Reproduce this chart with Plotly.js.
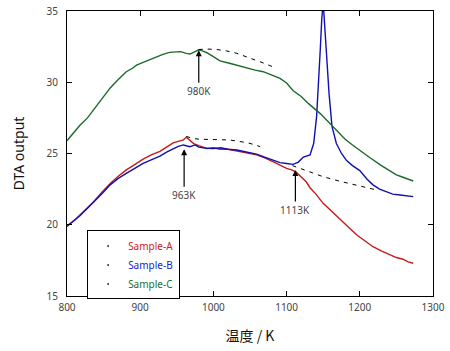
<!DOCTYPE html>
<html>
<head>
<meta charset="utf-8">
<script src="https://cdn.plot.ly/plotly-3.0.1.min.js"></script>
<style>html,body{margin:0;padding:0;background:#fff;}#chart{width:450px;height:351px;}</style>
</head>
<body>
<div id="chart"></div>
<script>
// Sample-A (red)
const tempA = [800,810,818,828,836,848,859,870,881,892,904,915,927,936,945,952,959,963,968,973,980,991,1000,1009,1020,1032,1045,1059,1070,1082,1091,1100,1107,1113,1120,1127,1132,1140,1150,1160,1173,1185,1196,1207,1218,1230,1241,1250,1259,1266,1273];
const dtaA  = [19.9,20.3,20.7,21.2,21.6,22.3,22.9,23.4,23.85,24.2,24.6,24.9,25.15,25.45,25.75,25.85,25.95,26.15,25.9,25.7,25.55,25.35,25.4,25.3,25.3,25.2,25.05,24.9,24.7,24.42,24.2,23.96,23.85,23.7,23.35,23.0,22.6,22.15,21.5,21.0,20.33,19.8,19.28,18.85,18.46,18.15,17.88,17.7,17.58,17.4,17.3];
// Sample-B (blue)
const tempB = [800,810,818,828,836,848,859,870,881,892,904,915,927,936,945,952,959,963,968,975,980,991,1000,1010,1020,1032,1045,1059,1070,1080,1091,1100,1109,1116,1123,1132,1137,1141,1143,1146,1148,1150,1152,1155,1158,1162,1168,1175,1182,1190,1200,1210,1218,1227,1237,1245,1255,1265,1273];
const dtaB  = [19.9,20.3,20.65,21.15,21.55,22.2,22.8,23.25,23.6,23.95,24.3,24.55,24.82,25.1,25.35,25.5,25.6,25.55,25.48,25.6,25.45,25.36,25.35,25.4,25.3,25.25,25.1,24.96,24.75,24.55,24.36,24.3,24.24,24.4,24.75,24.9,25.7,27.6,29.9,32.3,34.4,35.6,34.0,31.5,29.2,26.9,25.7,25.0,24.5,24.15,23.8,23.2,22.8,22.5,22.3,22.15,22.09,22.0,21.97];
// Sample-C (green)
const tempC = [800,810,818,828,836,845,852,859,870,881,890,895,904,913,922,931,940,950,955,963,968,975,980,985,991,1000,1009,1022,1035,1045,1057,1068,1080,1091,1100,1109,1120,1130,1146,1157,1168,1180,1190,1200,1214,1228,1240,1250,1258,1265,1273];
const dtaC  = [25.9,26.5,27.0,27.5,28.03,28.7,29.15,29.6,30.2,30.74,31.0,31.2,31.4,31.6,31.8,31.96,32.1,32.1,32.15,32.03,31.98,32.15,32.28,32.2,32.07,31.8,31.5,31.33,31.15,30.98,30.85,30.74,30.5,30.27,29.95,29.4,29.0,28.5,27.8,27.2,26.65,26.0,25.6,25.25,24.7,24.2,23.8,23.5,23.35,23.2,23.07];
// Extrapolated baselines (dashed)
const baseCx = [980,992,1004,1018,1032,1045,1059,1072,1086];
const baseCy = [32.3,32.33,32.3,32.2,32.03,31.8,31.56,31.28,30.98];
const baseAx = [963,972,982,1000,1022,1035,1046,1056,1064];
const baseAy = [26.2,26.05,26.0,26.0,25.95,25.85,25.76,25.62,25.48];
const baseBx = [1108,1130,1150,1173,1196,1210,1223];
const baseBy = [24.15,23.75,23.37,23.05,22.79,22.6,22.44];
// Annotated temperatures
const markTemps = [980, 960, 1112];
const markVals  = [32.25, 25.3, 23.85];
const markLabels = ['980K', '963K', '1113K'];
const markOffsets = [41, 46, 40];

const names = ['Sample-A', 'Sample-B', 'Sample-C'];
const colors = ['#c41a1a', '#1010b0', '#1a6a2a'];
const textColors = ['#d02020', '#2020d0', '#207030'];

const lineTraces = [[tempA, dtaA], [tempB, dtaB], [tempC, dtaC]].map((d, i) => ({
  x: d[0], y: d[1], mode: 'lines', type: 'scatter',
  line: {color: colors[i], width: 1.4}, showlegend: false, hoverinfo: 'skip'
}));
const baseTraces = [[baseCx, baseCy], [baseAx, baseAy], [baseBx, baseBy]].map(d => ({
  x: d[0], y: d[1], mode: 'lines', type: 'scatter',
  line: {color: '#000', width: 1, dash: '4px,5px'}, showlegend: false, hoverinfo: 'skip'
}));
const legendTraces = names.map((n, i) => ({
  x: [null], y: [null], mode: 'markers', type: 'scatter',
  marker: {color: '#333', size: 2},
  name: '<span style="color:' + textColors[i] + '">' + n + '</span>'
}));

const annotations = markTemps.map((t, i) => ({
  x: t, y: markVals[i], xref: 'x', yref: 'y',
  text: markLabels[i], showarrow: true, arrowhead: 2, arrowsize: 1, arrowwidth: 1.2,
  arrowcolor: '#000', ax: 0, ay: markOffsets[i],
  font: {family: 'Noto Sans, sans-serif', size: 10, color: '#444'}
}));

const layout = {
  width: 450, height: 351,
  margin: {l: 67, r: 17, t: 11, b: 55},
  paper_bgcolor: '#fff', plot_bgcolor: '#fff',
  font: {family: 'Noto Sans, sans-serif', color: '#444'},
  xaxis: {
    range: [800, 1300], tickvals: [800, 900, 1000, 1100, 1200, 1300],
    ticks: 'inside', ticklen: 5, tickcolor: '#000', showline: true, linecolor: '#000', linewidth: 1,
    mirror: 'ticks', showgrid: false, zeroline: false,
    tickfont: {size: 10, color: '#444'}, ticklabelstandoff: 2,
    title: {text: '温度 / K', font: {family: 'Noto Sans CJK JP, sans-serif', size: 14, color: '#111'}, standoff: 18}
  },
  yaxis: {
    range: [15, 35], tickvals: [15, 20, 25, 30, 35],
    ticks: 'inside', ticklen: 5, tickcolor: '#000', showline: true, linecolor: '#000', linewidth: 1,
    mirror: 'ticks', showgrid: false, zeroline: false,
    tickfont: {size: 10, color: '#444'}, ticklabelstandoff: 6,
    title: {text: 'DTA output', font: {family: 'Noto Sans, sans-serif', size: 14, color: '#111'}, standoff: 18}
  },
  legend: {
    x: 0.055, y: 0.23, xanchor: 'left', yanchor: 'top',
    bgcolor: '#fff', bordercolor: '#000', borderwidth: 1,
    font: {size: 10}, itemwidth: 30, tracegroupgap: 0
  },
  annotations: annotations
};

Plotly.newPlot('chart', [...lineTraces, ...baseTraces, ...legendTraces], layout, {displayModeBar: false, staticPlot: true});
</script>
</body>
</html>
